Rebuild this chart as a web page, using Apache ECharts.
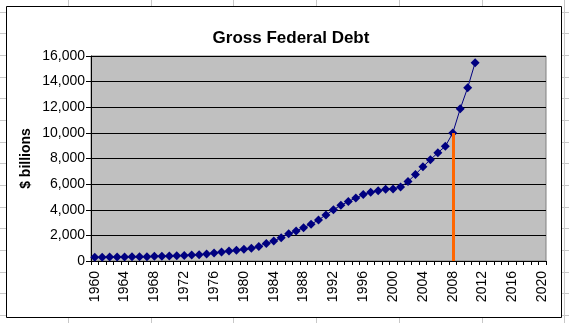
<!DOCTYPE html>
<html>
<head>
<meta charset="utf-8">
<script src="https://cdn.jsdelivr.net/npm/echarts@6/dist/echarts.min.js"></script>
<style>
html,body{margin:0;padding:0;background:#fff;}
#chart{width:569px;height:323px;}
</style>
</head>
<body>
<div id="chart"></div>
<script>
var years = ['1960','1961','1962','1963','1964','1965','1966','1967','1968','1969',
             '1970','1971','1972','1973','1974','1975','1976','1977','1978','1979',
             '1980','1981','1982','1983','1984','1985','1986','1987','1988','1989',
             '1990','1991','1992','1993','1994','1995','1996','1997','1998','1999',
             '2000','2001','2002','2003','2004','2005','2006','2007','2008','2009',
             '2010','2011','2012','2013','2014','2015','2016','2017','2018','2019','2020'];
var debt = [290.5, 292.6, 302.9, 310.3, 316.1, 322.3, 328.5, 340.4, 368.7, 365.8,
            380.9, 408.2, 435.9, 466.3, 483.9, 541.9, 629.0, 706.4, 776.6, 829.5,
            909.0, 994.8, 1137.3, 1371.7, 1564.6, 1817.4, 2120.5, 2346.0, 2601.1, 2867.8,
            3206.3, 3598.2, 4001.8, 4351.0, 4643.3, 4920.6, 5181.5, 5369.2, 5478.2, 5605.5,
            5628.7, 5769.9, 6198.4, 6760.0, 7354.7, 7905.3, 8451.4, 8950.7, 9986.1, 11875.9,
            13528.8, 15476.2];
var markerYear = '2008';
var markerValue = 9986.1;
var yTicks = [0, 2000, 4000, 6000, 8000, 10000, 12000, 14000, 16000];

var chart = echarts.init(document.getElementById('chart'), null, {renderer: 'canvas'});

// spreadsheet cell gridlines (decoration)
var bg = [];
var colX = [68, 150.7, 233.4, 316.1, 398.8, 481.5, 564.2];
colX.forEach(function (x) {
  bg.push({type: 'line', z: -20, shape: {x1: Math.round(x) + 0.5, y1: 0, x2: Math.round(x) + 0.5, y2: 323},
           style: {stroke: '#c8c8c8', lineWidth: 1}});
});
for (var y = 11.7; y < 323; y += 21.67) {
  bg.push({type: 'line', z: -20, shape: {x1: 0, y1: Math.round(y) + 0.5, x2: 569, y2: Math.round(y) + 0.5},
           style: {stroke: '#c8c8c8', lineWidth: 1}});
}
bg.push({type: 'rect', z: -10, shape: {x: 6.5, y: 6.5, width: 555, height: 311},
         style: {fill: '#ffffff', stroke: '#000000', lineWidth: 1}});

chart.setOption({
  animation: false,
  backgroundColor: '#ffffff',
  graphic: {elements: bg},
  title: {
    text: 'Gross Federal Debt',
    left: 286, top: 25, textAlign: 'center',
    textStyle: {fontFamily: 'Liberation Sans', fontWeight: 'bold', fontSize: 17, color: '#000'}
  },
  grid: {
    left: 91, top: 56, right: 23, bottom: 62,
    show: true, backgroundColor: '#C0C0C0', borderColor: '#808080', borderWidth: 1
  },
  xAxis: {
    type: 'category',
    data: years,
    boundaryGap: true,
    axisLine: {lineStyle: {color: '#000', width: 1}},
    axisTick: {show: true, interval: 0, length: 4, lineStyle: {color: '#000'}},
    axisLabel: {
      interval: 3, rotate: 90, margin: 10,
      fontFamily: 'Liberation Sans', fontSize: 14, color: '#000'
    },
    splitLine: {show: false}
  },
  yAxis: {
    type: 'value',
    min: yTicks[0], max: yTicks[yTicks.length - 1], interval: 2000,
    name: '$ billions',
    nameLocation: 'middle',
    nameGap: 58,
    nameMoveOverlap: false,
    nameTextStyle: {fontFamily: 'Liberation Sans', fontWeight: 'bold', fontSize: 14, color: '#000'},
    axisLine: {show: true, lineStyle: {color: '#000', width: 1}},
    axisTick: {show: true, length: 5, lineStyle: {color: '#000'}},
    axisLabel: {
      margin: 6,
      fontFamily: 'Liberation Sans', fontSize: 14, color: '#000',
      formatter: function (v) { return v.toLocaleString('en-US'); }
    },
    splitLine: {show: true, lineStyle: {color: '#000', width: 1}}
  },
  series: [{
    type: 'line',
    data: debt,
    symbol: 'diamond',
    symbolSize: 9,
    showAllSymbol: true,
    lineStyle: {color: '#000080', width: 1},
    itemStyle: {color: '#000080'},
    z: 3,
    markLine: {
      silent: true,
      symbol: 'none',
      label: {show: false},
      lineStyle: {color: '#FF6600', width: 3, type: 'solid'},
      data: [[{coord: [markerYear, 0]}, {coord: [markerYear, markerValue]}]]
    }
  }]
});
</script>
</body>
</html>
